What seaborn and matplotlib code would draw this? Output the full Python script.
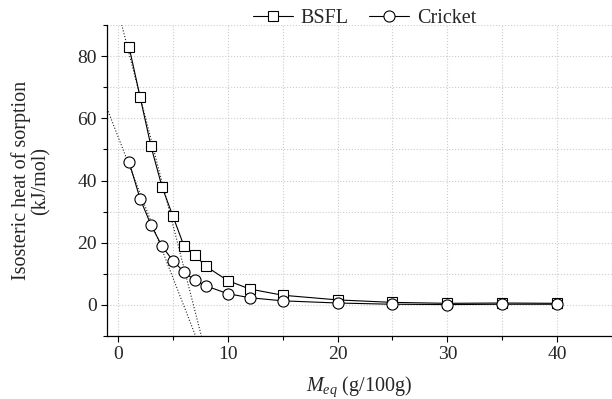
import numpy as np
import pandas as pd
import seaborn as sns
from matplotlib import pyplot as plt
from matplotlib.ticker import MultipleLocator

# moisture content (g/100g) and isosteric heat (kJ/mol)
m_eq = [1, 2, 3, 4, 5, 6, 7, 8, 10, 12, 15, 20, 25, 30, 35, 40]
bsfl = [83, 67, 51, 38, 28.5, 19, 16, 12.4, 7.8, 5.1, 3.1, 1.6, 0.8, 0.5, 0.6, 0.5]
cricket = [46, 34.2, 25.7, 18.9, 14.2, 10.6, 7.9, 6.1, 3.6, 2.3, 1.3, 0.6, 0.2, 0.1, 0.2, 0.2]

# dotted tangent lines (intercept, slope)
bsfl_fit = (94.7, -13.8)
cricket_fit = (54.1, -9.08)

sns.set_style("ticks")
plt.rcParams["font.family"] = ["Liberation Serif", "DejaVu Serif"]
plt.rcParams["mathtext.fontset"] = "custom"
plt.rcParams["mathtext.it"] = "Liberation Serif:italic"
plt.rcParams["mathtext.rm"] = "Liberation Serif"

df = pd.DataFrame({"m": m_eq, "BSFL": bsfl, "Cricket": cricket})

fig = plt.figure(figsize=(6.12, 3.99), dpi=100)
ax = fig.add_axes([0.175, 0.158, 0.825, 0.779])

ax.grid(True, which="both", color="#cccccc", linestyle=":", linewidth=0.8)
ax.set_axisbelow(True)

xs = np.array([-1.0, 9.0])
for b, k in (bsfl_fit, cricket_fit):
    ax.plot(xs, b + k * xs, color="#222222", linestyle=":", linewidth=0.8, zorder=2)

sns.lineplot(data=df, x="m", y="BSFL", ax=ax, color="black", linewidth=0.8,
             marker="s", markersize=7.5, markerfacecolor="white",
             markeredgecolor="black", markeredgewidth=0.8, label="BSFL", zorder=3)
sns.lineplot(data=df, x="m", y="Cricket", ax=ax, color="black", linewidth=0.8,
             marker="o", markersize=8, markerfacecolor="white",
             markeredgecolor="black", markeredgewidth=0.8, label="Cricket", zorder=4)

ax.set_xlim(-1, 45)
ax.set_ylim(-10, 90)
ax.xaxis.set_major_locator(MultipleLocator(10))
ax.xaxis.set_minor_locator(MultipleLocator(5))
ax.yaxis.set_major_locator(MultipleLocator(20))
ax.yaxis.set_minor_locator(MultipleLocator(10))
ax.tick_params(which="both", direction="out", labelsize=14, width=0.8, color="black")
ax.tick_params(which="major", length=4)
ax.tick_params(which="minor", length=3)

sns.despine(ax=ax)
for s in ("left", "bottom"):
    ax.spines[s].set_linewidth(0.9)
    ax.spines[s].set_color("black")

ax.set_xlabel("$M_{eq}$ (g/100g)", fontsize=14.5, labelpad=8)
ax.set_ylabel("Isosteric heat of sorption\n(kJ/mol)", fontsize=14.5, labelpad=19,
              linespacing=1.05)

ax.legend(loc="lower center", bbox_to_anchor=(0.51, 0.965), ncol=2, frameon=False,
          fontsize=14.5, handlelength=2.0, handletextpad=0.4, columnspacing=1.0,
          borderaxespad=0)

fig.savefig("out.png", dpi=100)
